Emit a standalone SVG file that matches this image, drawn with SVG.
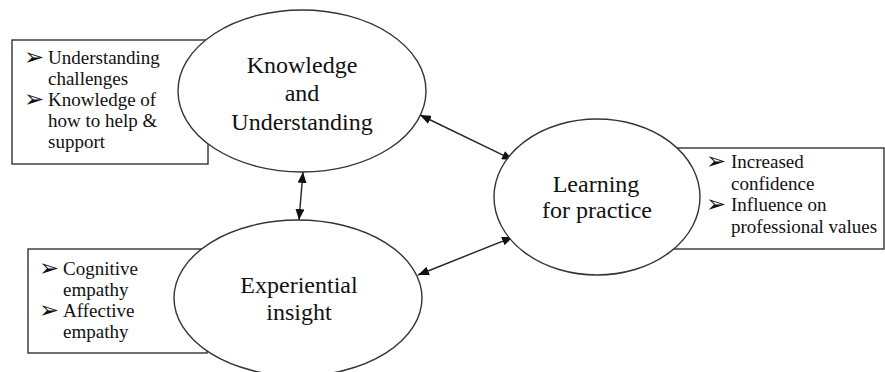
<svg xmlns="http://www.w3.org/2000/svg" width="885" height="372" viewBox="0 0 885 372">
  <style>
    .box { fill: #fff; stroke: #333; stroke-width: 1.4; }
    .node { fill: #fff; stroke: #333; stroke-width: 1.4; }
    .title { font-family: 'Liberation Serif', 'Times New Roman', serif; font-size: 24px; fill: #111; text-anchor: middle; }
    .item { font-family: 'Liberation Serif', 'Times New Roman', serif; font-size: 19px; fill: #111; }
    .bullet { font-family: 'DejaVu Sans', sans-serif; font-size: 24px; }
    .link { fill: none; stroke: #222; stroke-width: 1.4; marker-start: url(#head); marker-end: url(#head); }
  </style>
  <defs>
    <marker id="head" markerUnits="userSpaceOnUse" markerWidth="11" markerHeight="9" refX="11" refY="4.5" orient="auto-start-reverse">
      <path d="M0,0 L11,4.5 L0,9 z" fill="#111"/>
    </marker>
  </defs>

  <rect width="885" height="372" fill="#fff"/>

  <!-- side boxes sit behind the ellipses -->
  <g id="box-knowledge">
    <rect class="box" x="12" y="40" width="196" height="124"/>
    <text class="item"><tspan class="bullet" x="24" y="65">➢</tspan><tspan x="48" y="64">Understanding</tspan><tspan x="48" y="85">challenges</tspan><tspan class="bullet" x="24" y="107">➢</tspan><tspan x="48" y="106">Knowledge of</tspan><tspan x="48" y="127">how to help &amp;</tspan><tspan x="48" y="148">support</tspan></text>
  </g>

  <g id="box-experiential">
    <rect class="box" x="28" y="249" width="179" height="104"/>
    <text class="item"><tspan class="bullet" x="39" y="276">➢</tspan><tspan x="63" y="275">Cognitive</tspan><tspan x="63" y="296">empathy</tspan><tspan class="bullet" x="39" y="318">➢</tspan><tspan x="63" y="317">Affective</tspan><tspan x="63" y="338">empathy</tspan></text>
  </g>

  <g id="box-learning">
    <rect class="box" x="640" y="148" width="244" height="101"/>
    <text class="item"><tspan class="bullet" x="706" y="169">➢</tspan><tspan x="731" y="168">Increased</tspan><tspan x="731" y="190">confidence</tspan><tspan class="bullet" x="706" y="212">➢</tspan><tspan x="731" y="211">Influence on</tspan><tspan x="731" y="233">professional values</tspan></text>
  </g>

  <!-- connectors -->
  <g id="connectors">
    <line class="link" x1="420" y1="115" x2="513" y2="160"/>
    <line class="link" x1="418" y1="275" x2="513" y2="237"/>
    <line class="link" x1="303" y1="172" x2="299" y2="220"/>
  </g>

  <g id="node-knowledge">
    <ellipse class="node" cx="302" cy="91" rx="124" ry="81"/>
    <text class="title"><tspan x="302" y="73">Knowledge</tspan><tspan x="302" y="101">and</tspan><tspan x="302" y="130">Understanding</tspan></text>
  </g>

  <g id="node-experiential">
    <ellipse class="node" cx="298" cy="298" rx="124" ry="78"/>
    <text class="title"><tspan x="299" y="293">Experiential</tspan><tspan x="299" y="320">insight</tspan></text>
  </g>

  <g id="node-learning">
    <ellipse class="node" cx="597" cy="197" rx="103" ry="78"/>
    <text class="title"><tspan x="596" y="192">Learning</tspan><tspan x="597" y="218">for practice</tspan></text>
  </g>
</svg>
